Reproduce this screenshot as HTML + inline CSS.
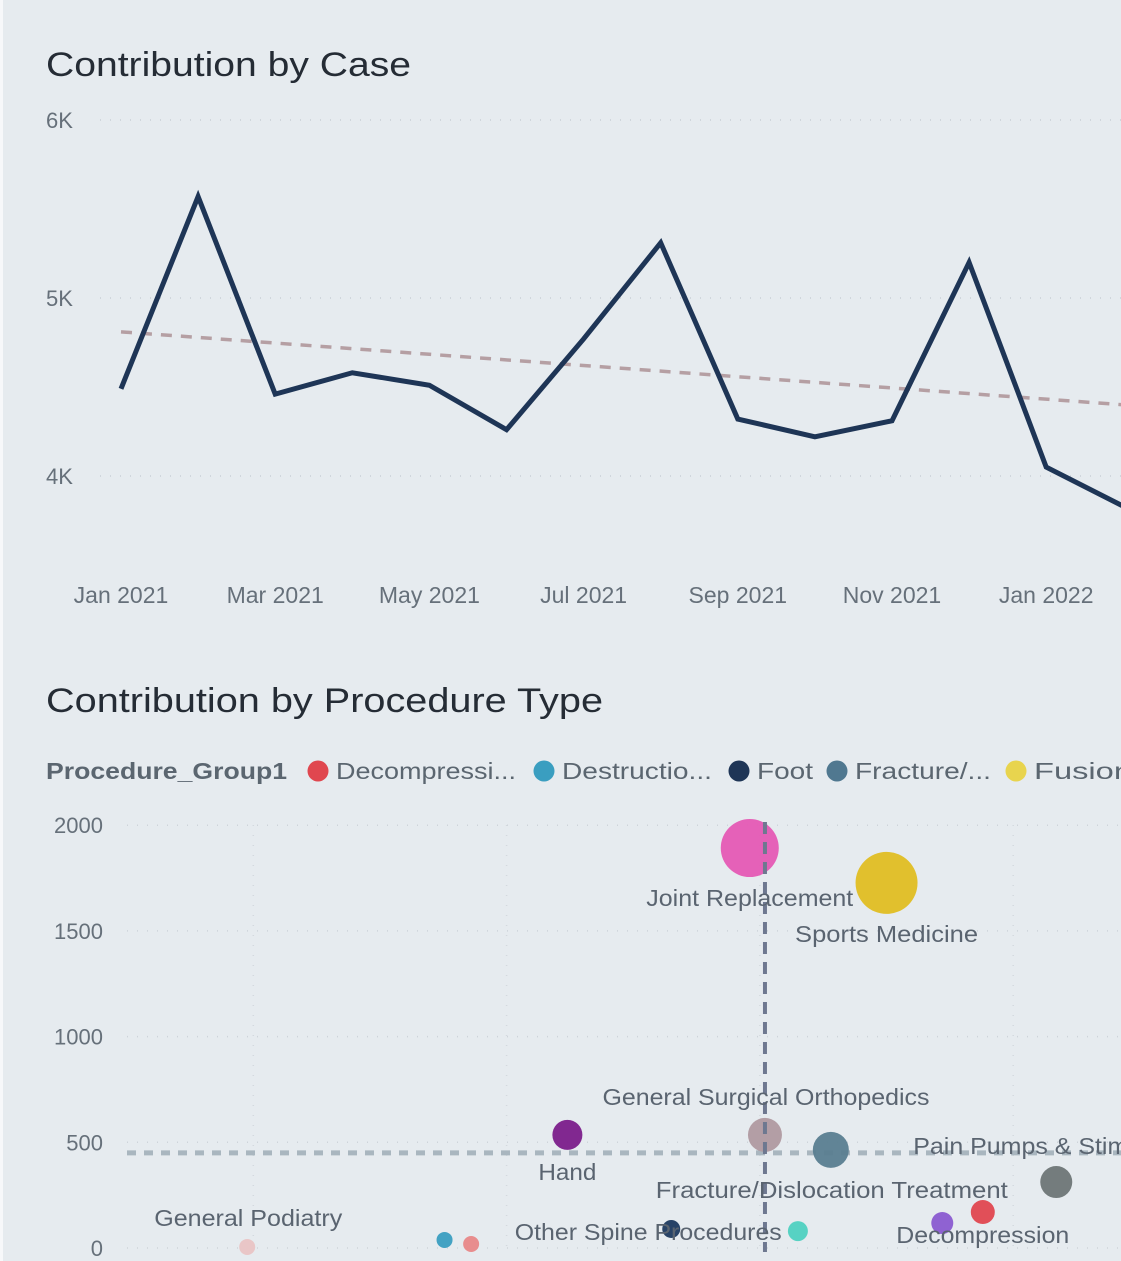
<!DOCTYPE html>
<html><head><meta charset="utf-8"><style>
html,body{margin:0;padding:0;background:#E6EBEF;}
svg{display:block;font-family:"Liberation Sans",sans-serif;}
</style></head><body>
<svg id="s" width="1121" height="1261" viewBox="0 0 1121 1261" xmlns="http://www.w3.org/2000/svg">
<rect x="0" y="0" width="1121" height="1261" fill="#E6EBEF"/>
<rect x="0" y="0" width="3" height="1261" fill="#F7F8FA"/>
<text x="46" y="76" font-size="34" fill="#252C35" textLength="365" lengthAdjust="spacingAndGlyphs">Contribution by Case</text>
<text x="46" y="712" font-size="34" fill="#252C35" textLength="557" lengthAdjust="spacingAndGlyphs">Contribution by Procedure Type</text>
<g id="line"></g>
<g id="scat"></g>
</svg>
<script>
const NS="http://www.w3.org/2000/svg";
function mk(p,tag,at){const e=document.createElementNS(NS,tag);for(const k in at)e.setAttribute(k,at[k]);p.appendChild(e);return e;}

// ---- Line chart data ----
const months=["Jan 2021","Feb 2021","Mar 2021","Apr 2021","May 2021","Jun 2021","Jul 2021","Aug 2021","Sep 2021","Oct 2021","Nov 2021","Dec 2021","Jan 2022","Feb 2022"];
const caseValues=[4.49,5.57,4.46,4.58,4.51,4.26,4.77,5.31,4.32,4.22,4.31,5.20,4.05,3.83];
const trendIdx=[0,13];
const trendValues=[4.81,4.40];
const yTicks=[4,5,6];
const yTickLabels=["4K","5K","6K"];
const xLabelIdx=[0,2,4,6,8,10,12];

const lx=i=>121+i*77.1;
const ly=v=>476-(v-4)*178;
const L=document.getElementById('line');
yTicks.forEach((t,i)=>{
  const g=mk(L,'line',{x1:100,x2:1121,y1:ly(t),y2:ly(t),stroke:'#C9D0D6','stroke-width':1.5,'stroke-dasharray':'1 9'});
  
  
  const tx=mk(L,'text',{x:46,y:ly(t)+8,'font-size':22,fill:'#66707A'});
  tx.textContent=yTickLabels[i];
  
  
});
xLabelIdx.forEach(i=>{
  const tx=mk(L,'text',{x:lx(i),y:603,'font-size':23,fill:'#66707A','text-anchor':'middle'});
  tx.textContent=months[i];
  
  
});
{const t=mk(L,'line',{x1:lx(trendIdx[0]),y1:ly(trendValues[0]),x2:lx(trendIdx[1]),y2:ly(trendValues[1]),stroke:'#B59FA3','stroke-width':3.5,'stroke-dasharray':'11 9'});

}
{const d=caseValues.map((v,i)=>(i?'L':'M')+lx(i)+','+ly(v)).join(' ');
const p=mk(L,'path',{d:d,fill:'none',stroke:'#1E3556','stroke-width':5,'stroke-linejoin':'miter'});

}

// ---- Scatter data ----
const groups=["Joint Replacement","Sports Medicine","Hand","General Surgical Orthopedics","Fracture/Dislocation Treatment","Pain Pumps & Stim","Decompression","Purple Group","Teal Group","Other Spine Procedures","Destruction","Salmon Group","General Podiatry"];
const xVals=[2.96,3.50,2.24,3.02,3.28,4.17,3.88,3.72,3.15,2.65,1.755,1.86,0.976];
const yVals=[1892,1727,535,535,464,312,170,118,80,90,38,19,5];
const sizes=[29,31,15,17,18,16,12,11,10,9,8,8,8];
const colors=["#E55AB4","#E0BE22","#7B1E8A","#B09AA0","#5A7E90","#6E7676","#E0474F","#8A5BD0","#4FD1C0","#1E3A5F","#3A9EC0","#E88888","#E9C4C4"];
const sTicks=[0,500,1000,1500,2000];
const avgX=3.02, avgY=450;
const labels=[
 {t:"Joint Replacement",g:0,dx:0,dy:50,a:'middle',w:207},
 {t:"Sports Medicine",g:1,dx:0,dy:51,a:'middle',w:183},
 {t:"Hand",g:2,dx:0,dy:37,a:'middle',w:58},
 {t:"General Surgical Orthopedics",g:3,dx:1,dy:-38,a:'middle',w:327},
 {t:"Fracture/Dislocation Treatment",g:4,dx:1,dy:40,a:'middle',w:352},
 {t:"Pain Pumps & Stim",g:5,dx:-143,dy:-36,a:'start',w:215},
 {t:"Decompression",g:6,dx:0,dy:23,a:'middle',w:173},
 {t:"Other Spine Procedures",g:9,dx:-23,dy:3,a:'middle',w:267},
 {t:"General Podiatry",g:12,dx:1,dy:-29,a:'middle',w:188}
];
const sx=v=>v*253.3;
const sy=v=>1248-v*0.2114;
const S=document.getElementById('scat');
sTicks.forEach(t=>{
  const g=mk(S,'line',{x1:127,x2:1121,y1:sy(t),y2:sy(t),stroke:'#CDD3D9','stroke-width':1.5,'stroke-dasharray':'1 9'});
  
  
  const tx=mk(S,'text',{x:103,y:sy(t)+8,'font-size':22,fill:'#66707A','text-anchor':'end'});
  tx.textContent=String(t);
  
  
});
[1,2,3,4].forEach(v=>{
  const g=mk(S,'line',{x1:sx(v),x2:sx(v),y1:825,y2:1252,stroke:'#D3D9DE','stroke-width':1.5,'stroke-dasharray':'1 9'});
  
  
});
{const h=mk(S,'line',{x1:127,x2:1121,y1:sy(avgY),y2:sy(avgY),stroke:'#A9B6BF','stroke-width':5,'stroke-dasharray':'9 8'});

}
groups.forEach((g,i)=>{
  const c=mk(S,'circle',{cx:sx(xVals[i]),cy:sy(yVals[i]),r:sizes[i],fill:colors[i],'fill-opacity':0.95});
  
  
});
{const v=mk(S,'line',{x1:sx(avgX),x2:sx(avgX),y1:822,y2:1252,stroke:'#6E7890','stroke-width':4,'stroke-dasharray':'12 8'});

}
labels.forEach(l=>{
  const tx=mk(S,'text',{x:sx(xVals[l.g])+l.dx,y:sy(yVals[l.g])+l.dy+8,'font-size':23,fill:'#5A6470','text-anchor':l.a,textLength:l.w,lengthAdjust:'spacingAndGlyphs'});
  tx.textContent=l.t;
  
  
});

// legend
const legendItems=["Decompressi...","Destructio...","Foot","Fracture/...","Fusion"];
const legendColors=["#E0474F","#3A9EC0","#1E3556","#507890","#E8D44E"];
const legendX=[318,544,739,837,1016];
const legendW=[180,150,56,136,98];
{const t=mk(S,'text',{x:46,y:779,'font-size':23,'font-weight':'bold',fill:'#5B6670',textLength:241,lengthAdjust:'spacingAndGlyphs'});
t.textContent="Procedure_Group1";

}
legendItems.forEach((it,i)=>{
  const c=mk(S,'circle',{cx:legendX[i],cy:771,r:10.5,fill:legendColors[i]});
  
  
  const t=mk(S,'text',{x:legendX[i]+18,y:779,'font-size':23,fill:'#5B6670',textLength:legendW[i],lengthAdjust:'spacingAndGlyphs'});
  t.textContent=it;
  
  
});
</script>
</body></html>
